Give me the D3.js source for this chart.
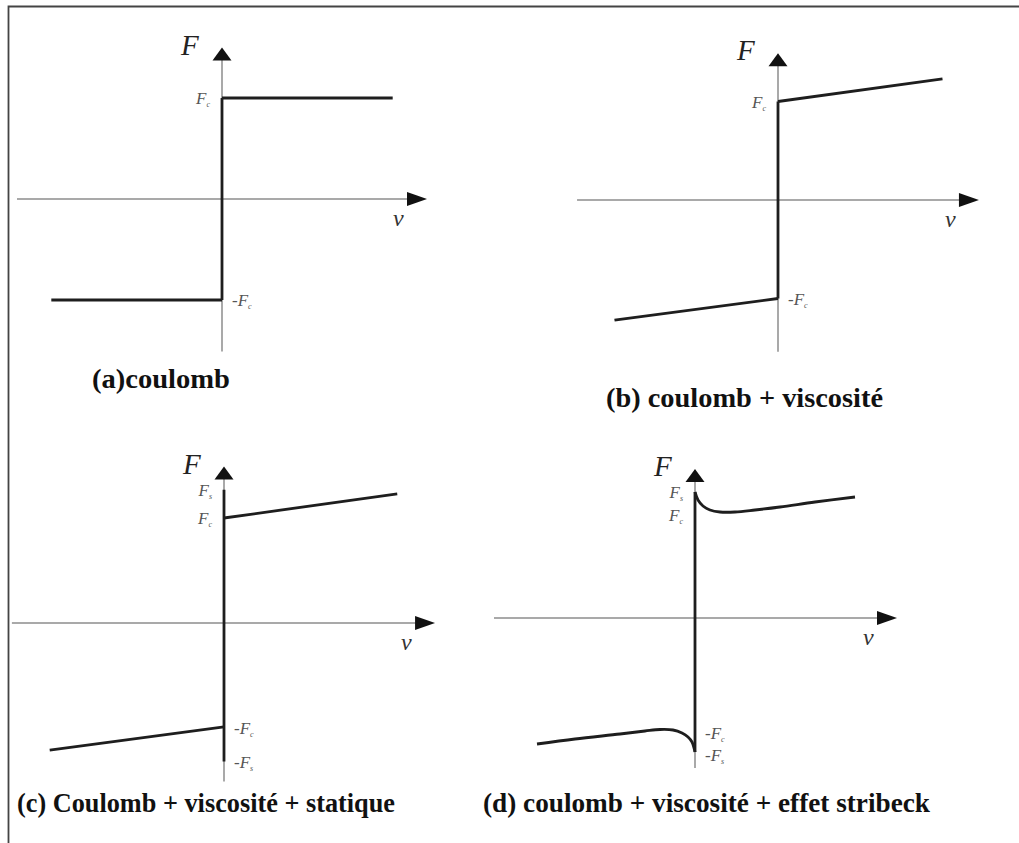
<!DOCTYPE html>
<html>
<head>
<meta charset="utf-8">
<script src="https://cdn.jsdelivr.net/npm/d3@7"></script>
<style>
  html, body { margin: 0; padding: 0; background: #fff; }
  svg { display: block; }
</style>
</head>
<body>
<svg id="chart" width="1019" height="843"></svg>
<script>
// ---- Friction models: force F versus velocity v (units of Fc) ----

const panelIds = ["a", "b", "c", "d"];
const panelTitles = [
  "(a)coulomb",
  "(b) coulomb + viscosité",
  "(c) Coulomb + viscosité + statique",
  "(d) coulomb + viscosité + effet stribeck"
];

// (a) pure Coulomb friction
const coulombNeg  = [[-1.69, -1.00], [0, -1.00]];
const coulombJump = [[0, -1.00], [0, 1.00]];
const coulombPos  = [[0, 1.00], [1.69, 1.00]];

// (b) Coulomb + viscous
const viscousNeg  = [[-1.66, -1.22], [0, -1.00]];
const viscousJump = [[0, -1.00], [0, 1.00]];
const viscousPos  = [[0, 1.00], [1.67, 1.23]];

// (c) Coulomb + viscous + static (breakaway) friction
const staticNeg  = [[-1.66, -1.21], [0, -0.99]];
const staticJump = [[0, -1.32], [0, 1.27]];
const staticPos  = [[0, 1.00], [1.65, 1.23]];

// (d) Coulomb + viscous + Stribeck effect
const stribeckNeg = [[-1.58, -1.26], [-1.20, -1.21], [-0.75, -1.16], [-0.50, -1.13],
                     [-0.35, -1.115], [-0.22, -1.12], [-0.13, -1.15], [-0.07, -1.19],
                     [-0.03, -1.24], [0, -1.34]];
const stribeckJump = [[0, -1.34], [0, 1.26]];
const stribeckPos = [[0, 1.26], [0.03, 1.18], [0.08, 1.12], [0.15, 1.08], [0.25, 1.06],
                     [0.40, 1.06], [0.60, 1.08], [0.85, 1.11],
                     [1.20, 1.16], [1.60, 1.21]];

// Force-level labels on the F axis: [main, subscript, level, side]
const levelsA = [["F", "c", 1.00, "left"], ["-F", "c", -1.00, "right"]];
const levelsB = [["F", "c", 1.00, "left"], ["-F", "c", -1.00, "right"]];
const levelsC = [["F", "s", 1.27, "left"], ["F", "c", 1.00, "left"],
                 ["-F", "c", -1.00, "right"], ["-F", "s", -1.32, "right"]];
const levelsD = [["F", "s", 1.26, "left"], ["F", "c", 1.03, "left"],
                 ["-F", "c", -1.15, "right"], ["-F", "s", -1.37, "right"]];

const curveSets = [
  [coulombNeg, coulombPos, coulombJump],
  [viscousNeg, viscousPos, viscousJump],
  [staticNeg, staticPos, staticJump],
  [stribeckNeg, stribeckPos, stribeckJump]
];
const levelSets = [levelsA, levelsB, levelsC, levelsD];

// Placement of each panel: origin, pixels per unit, axis extents (data units),
// caption anchor and caption width
const layout = [
  { cx: 222, cy: 199, k: 101,  xExt: [-2.03, 2.03], yExt: [-1.51, 1.50], title: [92, 388],  tw: 138 },
  { cx: 778, cy: 200, k: 98.5, xExt: [-2.04, 2.04], yExt: [-1.54, 1.49], title: [606, 407], tw: 277 },
  { cx: 224, cy: 623, k: 105,  xExt: [-2.02, 2.01], yExt: [-1.51, 1.49], title: [17, 812],  tw: 378 },
  { cx: 695, cy: 618, k: 100,  xExt: [-2.01, 2.02], yExt: [-1.50, 1.49], title: [483, 812], tw: 447 }
];

const svg = d3.select("#chart");
const serif = "'Liberation Serif', 'Times New Roman', serif";

// frame
svg.append("path")
  .attr("d", "M8.5,843 V6.5 H1019")
  .attr("fill", "none")
  .attr("stroke", "#444")
  .attr("stroke-width", 1.8);

panelIds.forEach((id, i) => {
  const L = layout[i];
  const x = d3.scaleLinear().domain([0, 1]).range([L.cx, L.cx + L.k]);
  const y = d3.scaleLinear().domain([0, 1]).range([L.cy, L.cy - L.k]);
  const g = svg.append("g").attr("class", "panel-" + id);

  const arrowLen = 20, arrowHalf = 7;
  const xTip = x(L.xExt[1]), yTip = y(L.yExt[1]);

  // velocity axis
  g.append("line")
    .attr("x1", x(L.xExt[0])).attr("x2", xTip - arrowLen + 2)
    .attr("y1", y(0)).attr("y2", y(0))
    .attr("stroke", "#8c8c8c").attr("stroke-width", 1.5);
  g.append("path")
    .attr("d", `M${xTip},${y(0)} L${xTip - arrowLen},${y(0) - arrowHalf} L${xTip - arrowLen},${y(0) + arrowHalf} Z`)
    .attr("fill", "#111");

  // force axis
  g.append("line")
    .attr("x1", x(0)).attr("x2", x(0))
    .attr("y1", y(L.yExt[0])).attr("y2", yTip + 12)
    .attr("stroke", "#8c8c8c").attr("stroke-width", 1.5);
  g.append("path")
    .attr("d", `M${x(0)},${yTip} L${x(0) - 9.5},${yTip + 13} L${x(0) + 9.5},${yTip + 13} Z`)
    .attr("fill", "#111");

  // friction characteristic
  const line = d3.line().x(d => x(d[0])).y(d => y(d[1]));
  const curved = d3.line().x(d => x(d[0])).y(d => y(d[1])).curve(d3.curveCatmullRom.alpha(0.5));
  curveSets[i].forEach((pts, j) => {
    const gen = (j < 2 && pts.length > 2) ? curved : line;
    g.append("path")
      .attr("d", gen(pts))
      .attr("fill", "none")
      .attr("stroke", "#1e1e1e")
      .attr("stroke-width", 2.8)
      .attr("stroke-linejoin", "miter");
  });

  // axis names
  g.append("text")
    .attr("x", x(0) - 41).attr("y", yTip + 7)
    .attr("font-family", serif).attr("font-style", "italic")
    .attr("font-size", 29).attr("fill", "#222")
    .text("F");
  g.append("text")
    .attr("x", xTip - 34).attr("y", y(0) + 27)
    .attr("font-family", serif).attr("font-style", "italic")
    .attr("font-size", 24).attr("fill", "#333")
    .text("v");

  // force levels
  levelSets[i].forEach(([main, sub, lvl, side]) => {
    const t = g.append("text")
      .attr("x", side === "left" ? x(0) - 12 : x(0) + 10)
      .attr("y", y(lvl) + 6)
      .attr("text-anchor", side === "left" ? "end" : "start")
      .attr("font-family", serif).attr("font-style", "italic")
      .attr("font-size", 17).attr("fill", "#555");
    t.append("tspan").text(main);
    t.append("tspan").attr("font-size", 8).attr("dy", 3).text(sub);
  });

  // caption
  svg.append("text")
    .attr("x", L.title[0]).attr("y", L.title[1])
    .attr("font-family", serif).attr("font-weight", "bold")
    .attr("font-size", 27).attr("fill", "#111")
    .attr("textLength", L.tw).attr("lengthAdjust", "spacingAndGlyphs")
    .text(panelTitles[i]);
});
</script>
</body>
</html>
